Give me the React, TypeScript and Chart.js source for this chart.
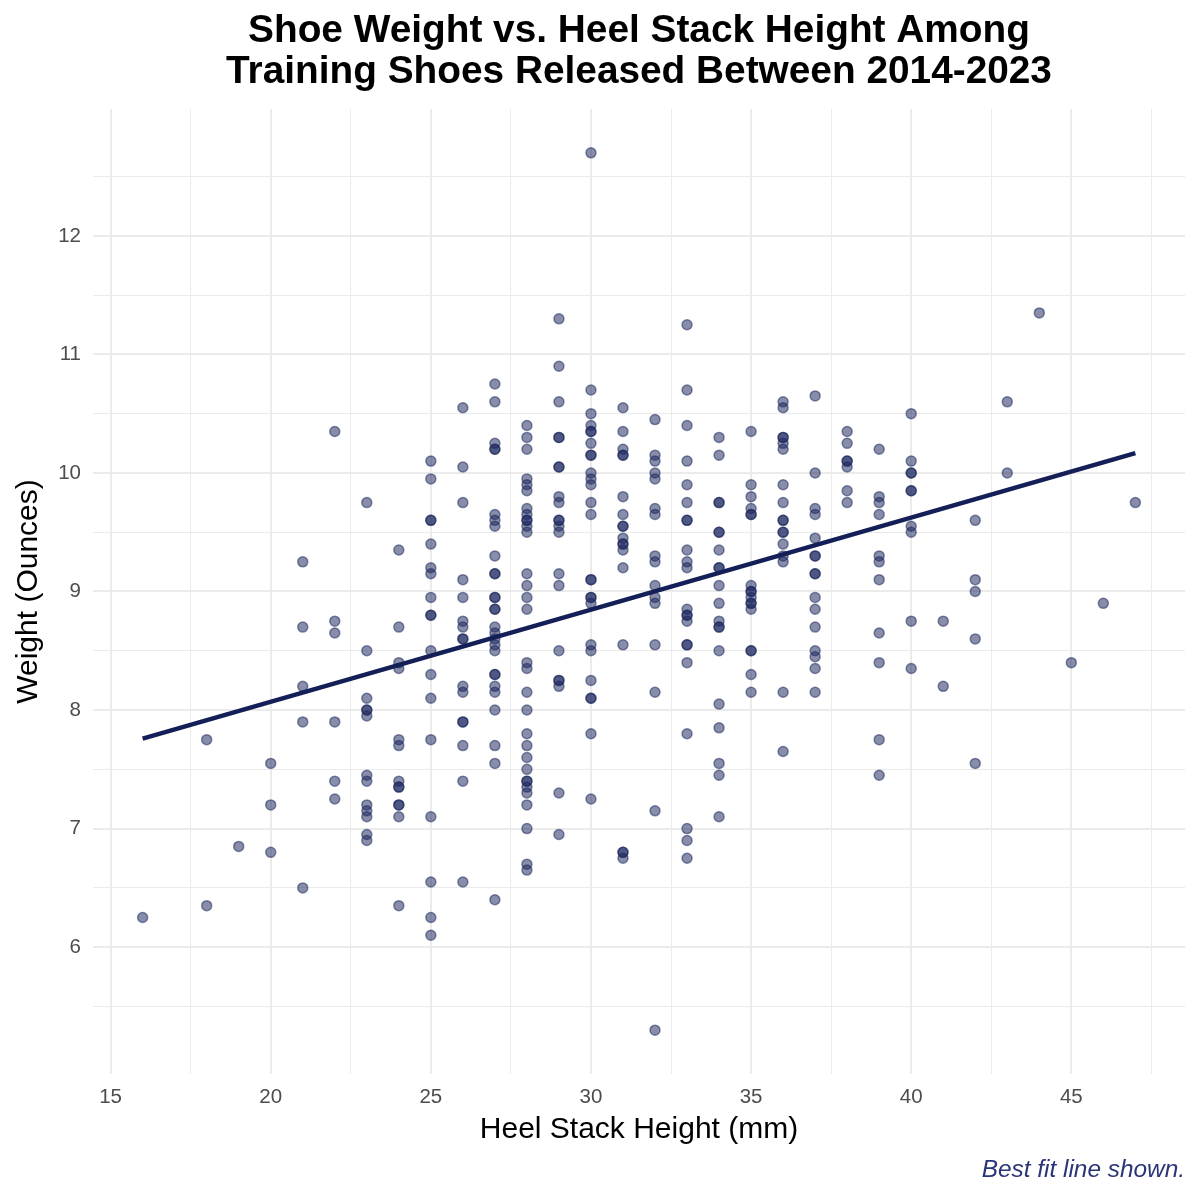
import React, { useEffect, useRef } from "react";
import { Chart, registerables } from "chart.js";

Chart.register(...registerables);

const titleLines = [
  "Shoe Weight vs. Heel Stack Height Among",
  "Training Shoes Released Between 2014-2023",
];
const xAxisTitle = "Heel Stack Height (mm)";
const yAxisTitle = "Weight (Ounces)";
const captionText = "Best fit line shown.";

// heel stack height (mm) and the weights (oz) of shoes at that height
const heelHeights = [16, 18, 19, 20, 21, 22, 23, 24, 25, 26, 27, 28, 29, 30, 31, 32, 33, 34, 35, 36, 37, 38, 39, 40, 41, 42, 43, 44, 45, 46, 47];
const weightsAtHeight: number[][] = [
  [6.25],
  [7.75, 6.35],
  [6.85],
  [7.55, 7.2, 6.8],
  [9.25, 8.7, 8.2, 7.9, 6.5],
  [10.35, 8.75, 8.65, 7.9, 7.4, 7.25],
  [9.75, 8.5, 8.1, 8.0, 8.0, 7.95, 7.45, 7.4, 7.2, 7.15, 7.1, 6.95, 6.9],
  [9.35, 8.7, 8.4, 8.35, 7.75, 7.7, 7.4, 7.35, 7.35, 7.2, 7.2, 7.1, 6.35],
  [10.1, 9.95, 9.6, 9.6, 9.4, 9.2, 9.15, 8.95, 8.8, 8.8, 8.5, 8.3, 8.1, 7.75, 7.1, 6.55, 6.25, 6.1],
  [10.55, 10.05, 9.75, 9.1, 8.95, 8.75, 8.7, 8.6, 8.6, 8.2, 8.15, 7.9, 7.9, 7.7, 7.4, 6.55],
  [10.75, 10.6, 10.25, 10.2, 10.2, 9.65, 9.6, 9.55, 9.3, 9.15, 9.15, 8.95, 8.95, 8.85, 8.85, 8.7, 8.65, 8.6, 8.55, 8.5, 8.3, 8.3, 8.2, 8.15, 8.0, 7.7, 7.55, 6.4],
  [10.4, 10.3, 10.2, 9.95, 9.9, 9.85, 9.7, 9.65, 9.6, 9.6, 9.55, 9.5, 9.15, 9.05, 8.95, 8.85, 8.4, 8.35, 8.15, 8.0, 7.8, 7.7, 7.6, 7.5, 7.4, 7.4, 7.35, 7.3, 7.2, 7.0, 6.7, 6.65],
  [11.3, 10.9, 10.6, 10.3, 10.3, 10.05, 10.05, 9.8, 9.75, 9.6, 9.6, 9.55, 9.5, 9.15, 9.05, 8.5, 8.25, 8.25, 8.2, 7.3, 6.95],
  [12.7, 10.7, 10.5, 10.4, 10.35, 10.35, 10.25, 10.15, 10.15, 10.0, 9.95, 9.9, 9.75, 9.65, 9.1, 9.1, 8.95, 8.95, 8.9, 8.55, 8.5, 8.25, 8.1, 8.1, 7.8, 7.25],
  [10.55, 10.35, 10.2, 10.15, 10.15, 9.8, 9.65, 9.55, 9.55, 9.45, 9.4, 9.4, 9.35, 9.2, 8.55, 6.8, 6.8, 6.75],
  [10.45, 10.15, 10.1, 10.0, 9.95, 9.7, 9.65, 9.3, 9.25, 9.05, 8.95, 8.9, 8.55, 8.15, 7.15, 5.3],
  [11.25, 10.7, 10.4, 10.1, 9.9, 9.75, 9.6, 9.6, 9.35, 9.25, 9.2, 8.85, 8.8, 8.8, 8.75, 8.55, 8.55, 8.4, 7.8, 7.0, 6.9, 6.75],
  [10.3, 10.15, 9.75, 9.75, 9.5, 9.5, 9.35, 9.2, 9.2, 9.05, 8.9, 8.75, 8.7, 8.7, 8.5, 8.05, 7.85, 7.55, 7.45, 7.1],
  [10.35, 9.9, 9.8, 9.7, 9.65, 9.65, 9.05, 9.0, 9.0, 8.95, 8.9, 8.9, 8.85, 8.5, 8.5, 8.3, 8.15],
  [10.6, 10.55, 10.3, 10.3, 10.25, 10.2, 9.9, 9.75, 9.6, 9.6, 9.5, 9.5, 9.4, 9.3, 9.25, 8.15, 7.65],
  [10.65, 10.0, 9.7, 9.65, 9.45, 9.3, 9.3, 9.15, 9.15, 8.95, 8.85, 8.7, 8.5, 8.45, 8.35, 8.15],
  [10.35, 10.25, 10.1, 10.1, 10.05, 9.85, 9.75],
  [10.2, 9.8, 9.75, 9.65, 9.3, 9.25, 9.1, 8.65, 8.4, 7.75, 7.45],
  [10.5, 10.1, 10.0, 10.0, 9.85, 9.85, 9.55, 9.5, 8.75, 8.35],
  [8.75, 8.2],
  [9.6, 9.1, 9.0, 8.6, 7.55],
  [10.6, 10.0],
  [11.35],
  [8.4],
  [8.9],
  [9.75],
];

const xTickValues = [15, 17.5, 20, 22.5, 25, 27.5, 30, 32.5, 35, 37.5, 40, 42.5, 45, 47.5];
const xTickLabels = ["15", "", "20", "", "25", "", "30", "", "35", "", "40", "", "45", ""];
const yTickValues = [5.5, 6, 6.5, 7, 7.5, 8, 8.5, 9, 9.5, 10, 10.5, 11, 11.5, 12, 12.5];
const yTickLabels = ["", "6", "", "7", "", "8", "", "9", "", "10", "", "11", "", "12", ""];

const NAVY = "#141f57";
const POINT = "rgba(27, 38, 92, 0.52)";
const GRID = "#ebebeb";
const FONT = "'Liberation Sans', Arial, Helvetica, sans-serif";

const textPlugin = {
  id: "ggText",
  afterDraw(chart: any) {
    const { ctx, chartArea } = chart;
    const cx = (chartArea.left + chartArea.right) / 2;
    const cy = (chartArea.top + chartArea.bottom) / 2;
    ctx.save();
    ctx.fillStyle = "#000";
    ctx.textAlign = "center";
    ctx.textBaseline = "middle";
    ctx.font = `bold 38.8px ${FONT}`;
    ctx.fillText(titleLines[0], cx, 31);
    ctx.fillText(titleLines[1], cx, 72);
    ctx.font = `30px ${FONT}`;
    ctx.fillText(xAxisTitle, cx, 1130);
    ctx.save();
    ctx.translate(29, cy);
    ctx.rotate(-Math.PI / 2);
    ctx.fillText(yAxisTitle, 0, 0);
    ctx.restore();
    ctx.font = `italic 24.4px ${FONT}`;
    ctx.fillStyle = "#2a3577";
    ctx.textAlign = "right";
    ctx.fillText(captionText, 1185, 1170);
    ctx.restore();
  },
};

export default function App() {
  const ref = useRef<HTMLCanvasElement | null>(null);

  useEffect(() => {
    if (!ref.current) return;
    const points: { x: number; y: number }[] = [];
    heelHeights.forEach((h, i) => {
      weightsAtHeight[i].forEach((w) => points.push({ x: h, y: w }));
    });
    const n = points.length;
    const mx = points.reduce((s, p) => s + p.x, 0) / n;
    const my = points.reduce((s, p) => s + p.y, 0) / n;
    let sxy = 0;
    let sxx = 0;
    points.forEach((p) => {
      sxy += (p.x - mx) * (p.y - my);
      sxx += (p.x - mx) * (p.x - mx);
    });
    const slope = sxy / sxx;
    const intercept = my - slope * mx;
    const xLo = Math.min(...heelHeights);
    const xHi = Math.max(...heelHeights);
    const fit = [
      { x: xLo, y: intercept + slope * xLo },
      { x: xHi, y: intercept + slope * xHi },
    ];
    const yMinD = Math.min(...points.map((p) => p.y));
    const yMaxD = Math.max(...points.map((p) => p.y));
    const xPad = (xHi - xLo) * 0.05;
    const yPad = (yMaxD - yMinD) * 0.05;

    const chart = new Chart(ref.current, {
      type: "scatter",
      data: {
        datasets: [
          {
            type: "line",
            data: fit,
            borderColor: NAVY,
            borderWidth: 4.5,
            pointRadius: 0,
            fill: false,
            order: 0,
          } as any,
          {
            data: points,
            backgroundColor: POINT,
            borderColor: POINT,
            borderWidth: 1.5,
            pointRadius: 5,
            order: 1,
          },
        ],
      },
      options: {
        responsive: false,
        animation: false,
        layout: { padding: { top: 109, right: 15, left: 0, bottom: 0 } },
        plugins: { legend: { display: false }, tooltip: { enabled: false }, title: { display: false } },
        scales: {
          x: {
            type: "linear",
            min: xLo - xPad,
            max: xHi + xPad,
            border: { display: false },
            grid: {
              color: GRID,
              drawTicks: false,
              lineWidth: (c: any) => (c.tick && xTickLabels[xTickValues.indexOf(c.tick.value)] ? 2 : 1),
            },
            ticks: {
              padding: 11,
              color: "#4d4d4d",
              font: { family: FONT, size: 20.5 },
              callback: (v: any) => {
                const i = xTickValues.indexOf(Number(v));
                return i >= 0 ? xTickLabels[i] : "";
              },
            },
            afterBuildTicks: (s: any) => {
              s.ticks = xTickValues.map((v) => ({ value: v }));
            },
            afterFit: (s: any) => {
              s.height = 126;
            },
          },
          y: {
            type: "linear",
            min: yMinD - yPad,
            max: yMaxD + yPad,
            border: { display: false },
            grid: {
              color: GRID,
              drawTicks: false,
              lineWidth: (c: any) => (c.tick && yTickLabels[yTickValues.indexOf(c.tick.value)] ? 2 : 1),
            },
            ticks: {
              padding: 12,
              color: "#4d4d4d",
              font: { family: FONT, size: 20.5 },
              callback: (v: any) => {
                const i = yTickValues.indexOf(Number(v));
                return i >= 0 ? yTickLabels[i] : "";
              },
            },
            afterBuildTicks: (s: any) => {
              s.ticks = yTickValues.map((v) => ({ value: v }));
            },
            afterFit: (s: any) => {
              s.width = 93;
            },
          },
        },
      },
      plugins: [textPlugin],
    });
    return () => chart.destroy();
  }, []);

  return (
    <div style={{ position: "absolute", left: 0, top: 0, width: 1200, height: 1200, background: "#fff" }}>
      <canvas ref={ref} width={1200} height={1200} style={{ display: "block", width: 1200, height: 1200 }} />
    </div>
  );
}
